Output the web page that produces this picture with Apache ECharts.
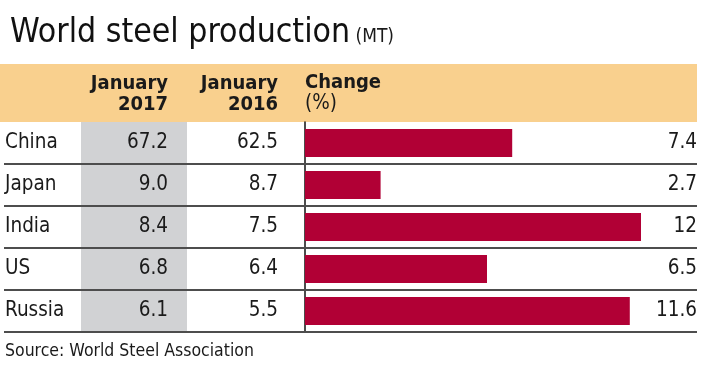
<!DOCTYPE html>
<html><head><meta charset="utf-8">
<script src="https://cdn.jsdelivr.net/npm/echarts@6/dist/echarts.min.js"></script>
<style>html,body{margin:0;padding:0;background:#fff}#c{width:702px;height:365px}</style>
</head><body><div id="c"></div>
<script>
const categories = ['China', 'Japan', 'India', 'US', 'Russia'];
const jan2017 = [67.2, 9.0, 8.4, 6.8, 6.1];
const jan2016 = [62.5, 8.7, 7.5, 6.4, 5.5];
const change = [7.4, 2.7, 12, 6.5, 11.6];
const headers = ['January\n2017', 'January\n2016', 'Change', '(%)'];

const F = '"Liberation Sans Narrow","DejaVu Sans Condensed","Roboto Condensed",sans-serif';
const TXT = '#1a1a1a';
const FS = 20.5;
const gridTop = 122, rowH = 42, gridLeft = 305, gridRight = 5;
const lines = categories.map((c, i) => ({
  type: 'line', z: 20,
  shape: {x1: 4, y1: gridTop + rowH * (i + 1), x2: 697, y2: gridTop + rowH * (i + 1)},
  style: {stroke: '#4d4d4d', lineWidth: 2}
}));

const chart = echarts.init(document.getElementById('c'), null, {renderer: 'canvas'});
chart.setOption({
  animation: false,
  backgroundColor: '#fff',
  title: {
    left: 5, top: 11,
    text: '{a|World steel production}{b| (MT)}',
    textStyle: {rich: {
      a: {fontFamily: F, fontSize: 33.5, fontWeight: 'normal', color: '#111'},
      b: {fontFamily: F, fontSize: 19, fontWeight: 'normal', color: TXT, padding: [9, 0, 0, 0]}
    }}
  },
  grid: {left: gridLeft, right: gridRight, top: gridTop, height: rowH * categories.length},
  xAxis: {type: 'value', min: 0, max: 14, show: false},
  yAxis: [
    {type: 'category', data: categories, inverse: true, position: 'left', offset: 0,
     axisLine: {show: true, lineStyle: {color: '#111', width: 1.5}}, axisTick: {show: false},
     axisLabel: {align: 'left', margin: 300, fontFamily: F, fontSize: FS, color: TXT}},
    {type: 'category', data: jan2017.map(v => v.toFixed(1)), inverse: true, position: 'left', offset: 0,
     axisLine: {show: false}, axisTick: {show: false},
     axisLabel: {margin: 137, fontFamily: F, fontSize: FS, color: TXT}},
    {type: 'category', data: jan2016.map(v => v.toFixed(1)), inverse: true, position: 'left', offset: 0,
     axisLine: {show: false}, axisTick: {show: false},
     axisLabel: {margin: 27, fontFamily: F, fontSize: FS, color: TXT}},
    {type: 'category', data: change.map(v => String(v)), inverse: true, position: 'right', offset: 0,
     axisLine: {show: false}, axisTick: {show: false},
     axisLabel: {inside: true, margin: 0, fontFamily: F, fontSize: FS, color: TXT}}
  ],
  series: [{
    type: 'bar', data: change, yAxisIndex: 0, barWidth: 28, z: 5,
    itemStyle: {color: '#b10035'}
  }],
  graphic: [
    {type: 'rect', z: -10, shape: {x: 0, y: 64, width: 697, height: gridTop - 64}, style: {fill: '#f9d08e'}},
    {type: 'rect', z: -10, shape: {x: 81, y: gridTop, width: 106, height: rowH * categories.length}, style: {fill: '#d1d2d4'}},
    ...lines,
    {type: 'text', z: 30, x: 168, y: 73, style: {text: headers[0], font: 'bold 20px ' + F, fill: TXT, align: 'right', verticalAlign: 'top', lineHeight: 21}},
    {type: 'text', z: 30, x: 278, y: 73, style: {text: headers[1], font: 'bold 20px ' + F, fill: TXT, align: 'right', verticalAlign: 'top', lineHeight: 21}},
    {type: 'text', z: 30, x: 305, y: 73, style: {text: headers[2], font: 'bold 20px ' + F, fill: TXT, align: 'left', verticalAlign: 'top'}},
    {type: 'text', z: 30, x: 305, y: 93, style: {text: headers[3], font: '20.5px ' + F, fill: TXT, align: 'left', verticalAlign: 'top'}},
    {type: 'text', z: 30, x: 5, y: 342, style: {text: 'Source: World Steel Association', font: '17.5px ' + F, fill: TXT, align: 'left', verticalAlign: 'top'}}
  ]
});
</script></body></html>
